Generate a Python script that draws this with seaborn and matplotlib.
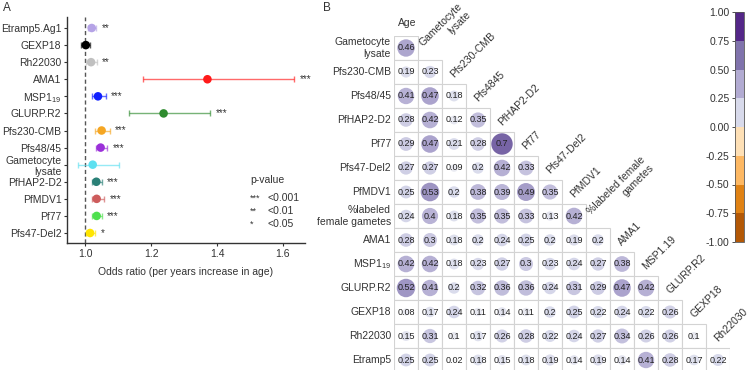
import numpy as np
import pandas as pd
import matplotlib
matplotlib.use("Agg")
import matplotlib.pyplot as plt
import seaborn as sns
from matplotlib.colors import ListedColormap, BoundaryNorm
from matplotlib.cm import ScalarMappable
from matplotlib.patches import Rectangle

# ---------------------------------------------------------------
# DATA - panel A (odds ratio per year of age)
# ---------------------------------------------------------------
antigens = ["Etramp5.Ag1", "GEXP18", "Rh22030", "AMA1", "MSP1$_{19}$",
            "GLURP.R2", "Pfs230-CMB", "Pfs48/45", "Gametocyte\nlysate",
            "PfHAP2-D2", "PfMDV1", "Pf77", "Pfs47-Del2"]
odds_ratio = [1.020, 1.002, 1.018, 1.371, 1.039, 1.238, 1.050, 1.047,
              1.023, 1.034, 1.035, 1.035, 1.015]
ci_low = [1.010, 0.987, 1.003, 1.175, 1.020, 1.134, 1.030, 1.033,
          0.978, 1.020, 1.020, 1.020, 1.003]
ci_high = [1.033, 1.015, 1.035, 1.634, 1.062, 1.380, 1.074, 1.066,
           1.103, 1.050, 1.058, 1.050, 1.030]
signif = ["**", "", "**", "***", "***", "***", "***", "***", "",
          "***", "***", "***", "*"]
point_colors = ["#b5a3e6", "#000000", "#c0c0c0", "#ff1a1a", "#1020ff",
                "#2e8b2e", "#f5a623", "#9b30d9", "#5ee0f0", "#2a8077",
                "#cd5c5c", "#4ee04e", "#ffe500"]
pval_stars = ["***", "**", "*"]
pval_text = ["<0.001", "<0.01", "<0.05"]

# ---------------------------------------------------------------
# DATA - panel B (correlation matrix, lower triangle)
# ---------------------------------------------------------------
row_labels = ["Gametocyte\nlysate", "Pfs230-CMB", "Pfs48/45", "PfHAP2-D2",
              "Pf77", "Pfs47-Del2", "PfMDV1", "%labeled\nfemale gametes",
              "AMA1", "MSP1$_{19}$", "GLURP.R2", "GEXP18", "Rh22030",
              "Etramp5"]
col_labels = ["Age", "Gametocyte\nlysate", "Pfs230-CMB", "Pfs4845",
              "PfHAP2-D2", "Pf77", "Pfs47-Del2", "PfMDV1",
              "%labeled female\ngametes", "AMA1", "MSP1.19", "GLURP.R2",
              "GEXP18", "Rh22030"]
corr_rows = [
    [0.46],
    [0.19, 0.23],
    [0.41, 0.47, 0.18],
    [0.28, 0.42, 0.12, 0.35],
    [0.29, 0.47, 0.21, 0.28, 0.7],
    [0.27, 0.27, 0.09, 0.2, 0.42, 0.33],
    [0.25, 0.53, 0.2, 0.38, 0.39, 0.49, 0.35],
    [0.24, 0.4, 0.18, 0.35, 0.35, 0.33, 0.13, 0.42],
    [0.28, 0.3, 0.18, 0.2, 0.24, 0.25, 0.2, 0.19, 0.2],
    [0.42, 0.42, 0.18, 0.23, 0.27, 0.3, 0.23, 0.24, 0.27, 0.38],
    [0.52, 0.41, 0.2, 0.32, 0.36, 0.36, 0.24, 0.31, 0.29, 0.47, 0.42],
    [0.08, 0.17, 0.24, 0.11, 0.14, 0.11, 0.2, 0.25, 0.22, 0.24, 0.22, 0.26],
    [0.15, 0.31, 0.1, 0.17, 0.26, 0.28, 0.22, 0.24, 0.27, 0.34, 0.26, 0.26, 0.1],
    [0.25, 0.25, 0.02, 0.18, 0.15, 0.18, 0.19, 0.14, 0.19, 0.14, 0.41, 0.28, 0.17, 0.22],
]
cbar_colors = ["#b35806", "#e08214", "#fdb863", "#fee0b6",
               "#d8daeb", "#b2abd2", "#8073ac", "#542788"]

# ---------------------------------------------------------------
# STYLE
# ---------------------------------------------------------------
sns.set_style("white")
plt.rcParams["font.family"] = ["Liberation Sans", "DejaVu Sans"]
plt.rcParams["mathtext.fontset"] = "custom"
plt.rcParams["mathtext.rm"] = "Liberation Sans"
plt.rcParams["mathtext.it"] = "Liberation Sans:italic"
txt = "#333333"

W, H = 750, 370
fig = plt.figure(figsize=(7.5, 3.7), dpi=100)


def px_axes(x0, y0, x1, y1):
    return fig.add_axes([x0 / W, 1 - y1 / H, (x1 - x0) / W, (y1 - y0) / H])


# ---------------------------------------------------------------
# PANEL A - forest plot
# ---------------------------------------------------------------
axA = px_axes(67, 17, 305, 243)
dfA = pd.DataFrame({"antigen": antigens, "OR": odds_ratio, "lo": ci_low,
                    "hi": ci_high, "pos": np.arange(len(antigens))})

axA.axvline(1.0, color="#555555", lw=1, ls=(0, (3, 2)), zorder=1)
for _, r in dfA.iterrows():
    c = point_colors[int(r["pos"])]
    axA.errorbar(r["OR"], r["pos"], xerr=[[r["OR"] - r["lo"]], [r["hi"] - r["OR"]]],
                 fmt="none", ecolor=c, elinewidth=1, capsize=2, capthick=1,
                 alpha=0.65, zorder=2)
sns.scatterplot(data=dfA, x="OR", y="pos", hue="antigen",
                palette=dict(zip(antigens, point_colors)), s=38,
                edgecolor="none", legend=False, zorder=3, ax=axA)
for _, r in dfA.iterrows():
    s = signif[int(r["pos"])]
    if s:
        axA.annotate(s, (r["hi"], r["pos"]), xytext=(4, 0),
                     textcoords="offset points", fontsize=7, color=txt,
                     va="center", ha="left")

axA.set_xlim(0.945, 1.667)
axA.set_ylim(12.585, -0.644)
axA.set_xticks([1.0, 1.2, 1.4, 1.6])
axA.set_xticklabels(["1.0", "1.2", "1.4", "1.6"])
axA.set_yticks(dfA["pos"])
axA.set_yticklabels(antigens, multialignment="right")
axA.tick_params(labelsize=7.5, colors=txt, length=2, width=0.8, pad=2,
                bottom=True, left=True)
axA.set_xlabel("Odds ratio (per years increase in age)", fontsize=7.5,
               color=txt, labelpad=6)
axA.set_ylabel("")
for side in ["top", "right"]:
    axA.spines[side].set_visible(False)
for side in ["left", "bottom"]:
    axA.spines[side].set_color("#333333")
    axA.spines[side].set_linewidth(1)

fig.text(250 / W, 1 - 180 / H, "p-value", fontsize=7.5, color=txt, va="center")
for k, (st, pt) in enumerate(zip(pval_stars, pval_text)):
    yy = 1 - (198 + 13 * k) / H
    fig.text(250 / W, yy, st, fontsize=6.5, color=txt, va="center")
    fig.text(268 / W, yy, pt, fontsize=7.5, color=txt, va="center")

fig.text(3 / W, 1 - 8 / H, "A", fontsize=8.5, color=txt, va="center")
fig.text(323 / W, 1 - 8 / H, "B", fontsize=8.5, color=txt, va="center")

# ---------------------------------------------------------------
# PANEL B - correlation plot
# ---------------------------------------------------------------
cell = 24
n = len(row_labels)
x0, y0 = 394, 36
axB = px_axes(x0, y0, x0 + n * cell, y0 + n * cell)

recs = []
for i, vals in enumerate(corr_rows):
    for j, v in enumerate(vals):
        recs.append({"row": i, "col": j, "r": v, "absr": abs(v)})
dfB = pd.DataFrame(recs)

for _, r in dfB.iterrows():
    axB.add_patch(Rectangle((r["col"] - 0.5, r["row"] - 0.5), 1, 1,
                            facecolor="white", edgecolor="#d3d3d3", lw=0.8,
                            zorder=1))
sns.scatterplot(data=dfB, x="col", y="row", hue="r", palette="PuOr",
                hue_norm=(-1.1, 1.1), size="absr", sizes=(0, 340),
                size_norm=(0, 1), edgecolor="none", legend=False,
                zorder=2, ax=axB)
for _, r in dfB.iterrows():
    axB.text(r["col"], r["row"], f"{r['r']:g}", ha="center", va="center",
             fontsize=6.5, color="#222222", zorder=3)

axB.set_xlim(-0.5, n - 0.5)
axB.set_ylim(n - 0.5, -0.5)
axB.axis("off")

for i, lab in enumerate(row_labels):
    axB.text(-0.62, i, lab, ha="right", va="center", multialignment="right",
             fontsize=7.5, color=txt, clip_on=False)

axB.text(0.05, -1.05, col_labels[0], ha="center", va="center", fontsize=7.5,
         color=txt, clip_on=False)
for j, lab in enumerate(col_labels[1:], start=1):
    axB.text(j + 0.02, j - 0.5 - 0.25, lab, rotation=45, rotation_mode="anchor",
             ha="left", va="baseline", multialignment="right", fontsize=7.5,
             color=txt, clip_on=False)

# colour bar
cax = px_axes(735, 12, 744, 242)
cmap = ListedColormap(cbar_colors)
bnorm = BoundaryNorm(np.linspace(-1, 1, 9), cmap.N)
cb = fig.colorbar(ScalarMappable(norm=bnorm, cmap=cmap), cax=cax,
                  ticks=np.linspace(-1, 1, 9), format="%.2f")
cb.outline.set_linewidth(0.6)
cb.outline.set_edgecolor("#555555")
cax.yaxis.set_ticks_position("left")
cax.yaxis.set_label_position("left")
cax.tick_params(labelsize=7.5, colors=txt, length=2, width=0.6, pad=2)

fig.savefig("out.png", dpi=100)
